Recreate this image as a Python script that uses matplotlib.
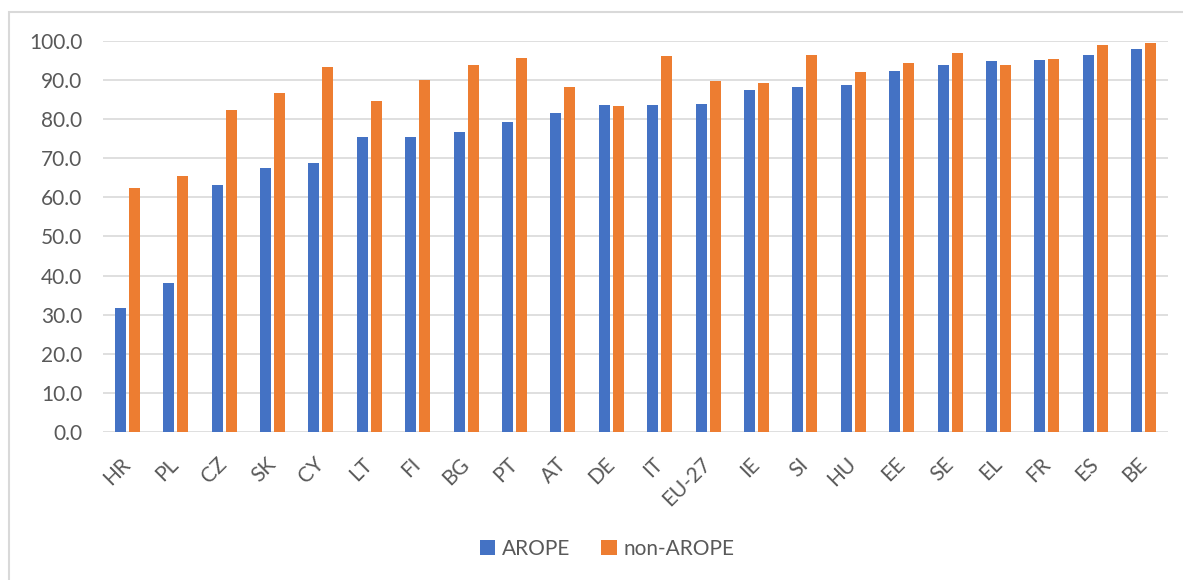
"""
Taux AROPE / non-AROPE par pays - diagramme en barres groupées
"""
import numpy as np
import matplotlib.pyplot as plt
from matplotlib.patches import Rectangle

countries = ['HR', 'PL', 'CZ', 'SK', 'CY', 'LT', 'FI', 'BG', 'PT', 'AT', 'DE',
             'IT', 'EU-27', 'IE', 'SI', 'HU', 'EE', 'SE', 'EL', 'FR', 'ES', 'BE']
arope = [31.7, 38.1, 63.2, 67.6, 68.9, 75.4, 75.4, 76.6, 79.4, 81.7, 83.6,
         83.6, 83.8, 87.4, 88.2, 88.8, 92.3, 93.9, 94.8, 95.1, 96.3, 98.0]
non_arope = [62.4, 65.5, 82.3, 86.7, 93.4, 84.6, 90.1, 93.8, 95.6, 88.3, 83.3,
             96.2, 89.7, 89.2, 96.5, 92.0, 94.5, 97.0, 93.9, 95.5, 99.0, 99.5]

BLUE = '#4472C4'
ORANGE = '#ED7D31'
GRID = '#D9D9D9'
TEXT = '#595959'

plt.rcParams['font.family'] = ['Lato', 'DejaVu Sans']

fig = plt.figure(figsize=(11.83, 5.8), dpi=100)
ax = fig.add_axes([0.0871, 0.2552, 0.9002, 0.6741])

x = np.arange(len(countries))
w = 0.227
off = 0.145
ax.bar(x - off, arope, w, color=BLUE, label='AROPE', zorder=3)
ax.bar(x + off, non_arope, w, color=ORANGE, label='non-AROPE', zorder=3)

ax.set_xlim(-0.5, len(countries) - 0.5)
ax.set_ylim(0, 100)
ax.set_yticks(np.arange(0, 101, 10))
ax.set_yticklabels([f'{v:.1f}' for v in np.arange(0, 101, 10)])
ax.yaxis.grid(True, color=GRID, linewidth=1.2, zorder=0)
ax.set_axisbelow(True)

ax.set_xticks(x)
ax.set_xticklabels(countries, rotation=45, ha='right', va='center',
                   rotation_mode='anchor')

for s in ax.spines.values():
    s.set_visible(False)
ax.tick_params(axis='both', length=0, labelsize=15, labelcolor=TEXT)
ax.tick_params(axis='y', pad=15)
ax.tick_params(axis='x', pad=21)

# cadre du graphique
fig.patches.append(Rectangle((0.0072, -0.1), 1.2, 0.979 + 0.1,
                             transform=fig.transFigure, fill=False,
                             edgecolor=GRID, linewidth=1.5))

leg = fig.legend(loc='center', bbox_to_anchor=(0.513, 0.0534), ncol=2,
                 frameon=False, handlelength=0.75, handleheight=0.75,
                 handletextpad=0.3, columnspacing=1.5, fontsize=15)
for t in leg.get_texts():
    t.set_color(TEXT)

fig.savefig('out.png', dpi=100)
plt.close(fig)
